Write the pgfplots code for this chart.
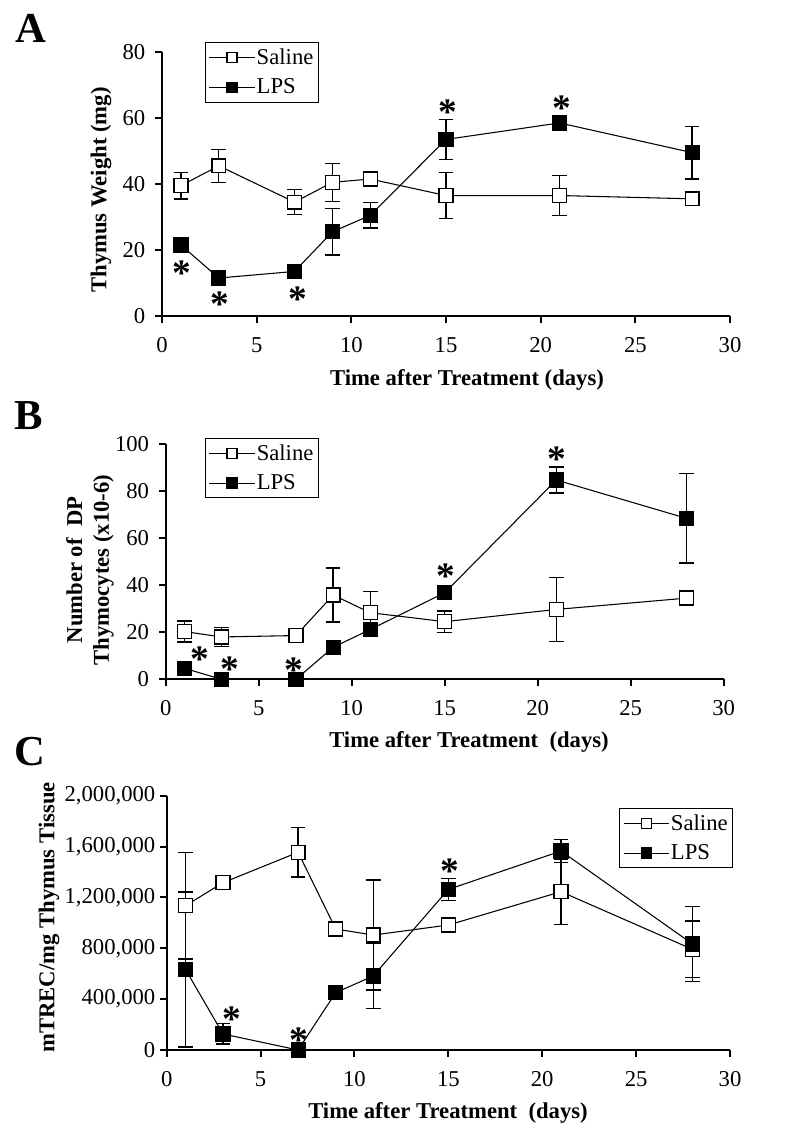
\documentclass[border=0pt]{standalone}
\usepackage{fontspec}
\setmainfont{Liberation Serif}
\usepackage{pgfplots}
\pgfplotsset{compat=1.18}
\usepackage{pgfplotstable}

\newcommand{\tf}{\fontsize{17}{19}\selectfont}
\newcommand{\lf}{\fontsize{17}{20}\selectfont\bfseries}
\newcommand{\starf}{\fontsize{28}{28}\selectfont\bfseries}

\pgfplotstableread{
x y e
1 39.5 4
3 45.5 5
7 34.5 3.8
9 40.5 5.8
11 41.5 2
15 36.5 7
21 36.5 6
28 35.5 0.5
}\salA
\pgfplotstableread{
x y e
1 21.5 1.5
3 11.5 0.5
7 13.5 0.5
9 25.5 7
11 30.5 3.8
15 53.5 6
21 58.5 1
28 49.5 8
}\lpsA
\pgfplotstableread{
x y e
1 20.3 4.5
3 18 4
7 18.6 0.5
9 35.8 11.5
11 28.3 9
15 24.5 4.5
21 29.7 13.5
28 34.5 3
}\salB
\pgfplotstableread{
x y e
1 4.7 0.5
3 0 0
7 0 0
9 13.6 0.5
11 21.2 1
15 36.8 1
21 84.7 5.5
28 68.4 19
}\lpsB
\pgfplotstableread{
x y e
1 1135000 420000
3 1316000 30000
7 1555000 193000
9 952000 30000
11 904000 433000
15 983000 40000
21 1245000 257000
28 792000 223000
}\salC
\pgfplotstableread{
x y e
1 634000 610000
3 126000 80000
7 0 0
9 451000 20000
11 582000 254000
15 1263000 85000
21 1565000 92000
28 834000 293000
}\lpsC

\pgfplotsset{
 panel/.style={
  scale only axis, clip=false,
  xmin=0, xmax=30, ymin=0,
  xtick={0,5,...,30},
  axis x line*=bottom, axis y line*=left,
  axis line style={line width=1.5pt,-},
  tick style={line width=1.5pt,black},
  tick align=outside, major tick length=5pt,
  tick label style={font=\tf},
  xticklabel style={yshift=-7.5pt},
  /pgf/number format/assume math mode=true,
  legend cell align=left,
  legend style={draw=black, line width=0.6pt, font=\tf, inner xsep=2.5pt, inner ysep=3.5pt, row sep=7pt, nodes={inner sep=1.2pt}},
  legend image code/.code={\draw[mark repeat=2,mark phase=2,##1, mark size=3.75pt] plot coordinates {(0pt,0pt) (17pt,0pt) (34pt,0pt)};},
 },
 sal/.style={black, line width=0.8pt, mark=square*, mark size=5.2pt, mark options={fill=white, draw=black, line width=1pt},
   error bars/.cd, y dir=both, y explicit, error bar style={line width=1pt, black}, error mark options={rotate=90, mark size=5.5pt, line width=1pt}},
 lps/.style={black, line width=0.8pt, mark=square*, mark size=5.2pt, mark options={fill=black, draw=black, line width=1pt},
   error bars/.cd, y dir=both, y explicit, error bar style={line width=1pt, black}, error mark options={rotate=90, mark size=5.5pt, line width=1pt}},
}

\begin{document}
\begin{tikzpicture}
\path[use as bounding box] (0,0) rectangle (600pt,850.5pt);

% ---------- Panel A ----------
\begin{axis}[panel, at={(121.5pt,613.5pt)}, anchor=origin, width=426pt, height=198pt,
  ymax=80, ytick={0,20,...,80}, yticklabel style={xshift=-4pt},
  legend style={at={(0.0757,1.038)}, anchor=north west}]
\addplot[sal] table[x=x,y=y,y error=e] {\salA};
\addlegendentry{Saline}
\addplot[lps] table[x=x,y=y,y error=e] {\lpsA};
\addlegendentry{LPS}
\node[font=\starf, yshift=-3pt] at (axis cs:1.04,14.1) {*};
\node[font=\starf, yshift=-3pt] at (axis cs:3.06,4.8) {*};
\node[font=\starf, yshift=-3pt] at (axis cs:7.2,6.4) {*};
\node[font=\starf, yshift=-3pt] at (axis cs:15.1,62.9) {*};
\node[font=\starf, yshift=-3pt] at (axis cs:21.1,64.2) {*};
\end{axis}

% ---------- Panel B ----------
\begin{axis}[panel, at={(124.3pt,341pt)}, anchor=origin, width=418.5pt, height=176.5pt,
  ymax=100, ytick={0,20,...,100}, yticklabel style={xshift=-4pt},
  legend style={at={(0.0704,1.027)}, anchor=north west}]
\addplot[sal] table[x=x,y=y,y error=e] {\salB};
\addlegendentry{Saline}
\addplot[lps] table[x=x,y=y,y error=e] {\lpsB};
\addlegendentry{LPS}
\node[font=\starf, yshift=-3pt] at (axis cs:1.84,10.3) {*};
\node[font=\starf, yshift=-3pt] at (axis cs:3.46,6.1) {*};
\node[font=\starf, yshift=-3pt] at (axis cs:6.9,5.4) {*};
\node[font=\starf, yshift=-3pt] at (axis cs:15.07,45.7) {*};
\node[font=\starf, yshift=-3pt] at (axis cs:21.0,95.3) {*};
\end{axis}

% ---------- Panel C ----------
\begin{axis}[panel, at={(125pt,63pt)}, anchor=origin, width=422.5pt, height=190.7pt,
  ymax=2000000, ytick={0,400000,...,2000000}, scaled y ticks=false,
  yticklabel style={/pgf/number format/fixed, /pgf/number format/1000 sep={,}},
  legend style={at={(1.0053,0.953)}, anchor=north east}]
\addplot[sal] table[x=x,y=y,y error=e] {\salC};
\addlegendentry{Saline}
\addplot[lps] table[x=x,y=y,y error=e] {\lpsC};
\addlegendentry{LPS}
\node[font=\starf, yshift=-3pt] at (axis cs:3.47,275000) {*};
\node[font=\starf, yshift=-3pt] at (axis cs:7.04,110000) {*};
\node[font=\starf, yshift=-3pt] at (axis cs:15.1,1441600) {*};
\end{axis}

% ---------- Labels ----------
\node[font=\fontsize{32}{32}\selectfont\bfseries] at (23.25pt,829.1pt) {A};
\node[font=\fontsize{32}{32}\selectfont\bfseries] at (21.75pt,538.5pt) {B};
\node[font=\fontsize{32}{32}\selectfont\bfseries] at (22.5pt,286.5pt) {C};

\node[font=\lf] at (350.25pt,565.5pt) {Time after Treatment (days)};
\node[font=\lf] at (351.75pt,294pt) {Time after Treatment\ \ (days)};
\node[font=\lf] at (336pt,15.75pt) {Time after Treatment\ \ (days)};

\node[font=\lf, rotate=90] at (75.75pt,708pt) {Thymus Weight (mg)};
\node[font=\lf, rotate=90, align=center] at (67.5pt,423pt) {Number of\ \ DP\\Thymocytes (x10-6)};
\node[font=\lf, rotate=90] at (36.75pt,162.4pt) {mTREC/mg Thymus Tissue};
\end{tikzpicture}
\end{document}
